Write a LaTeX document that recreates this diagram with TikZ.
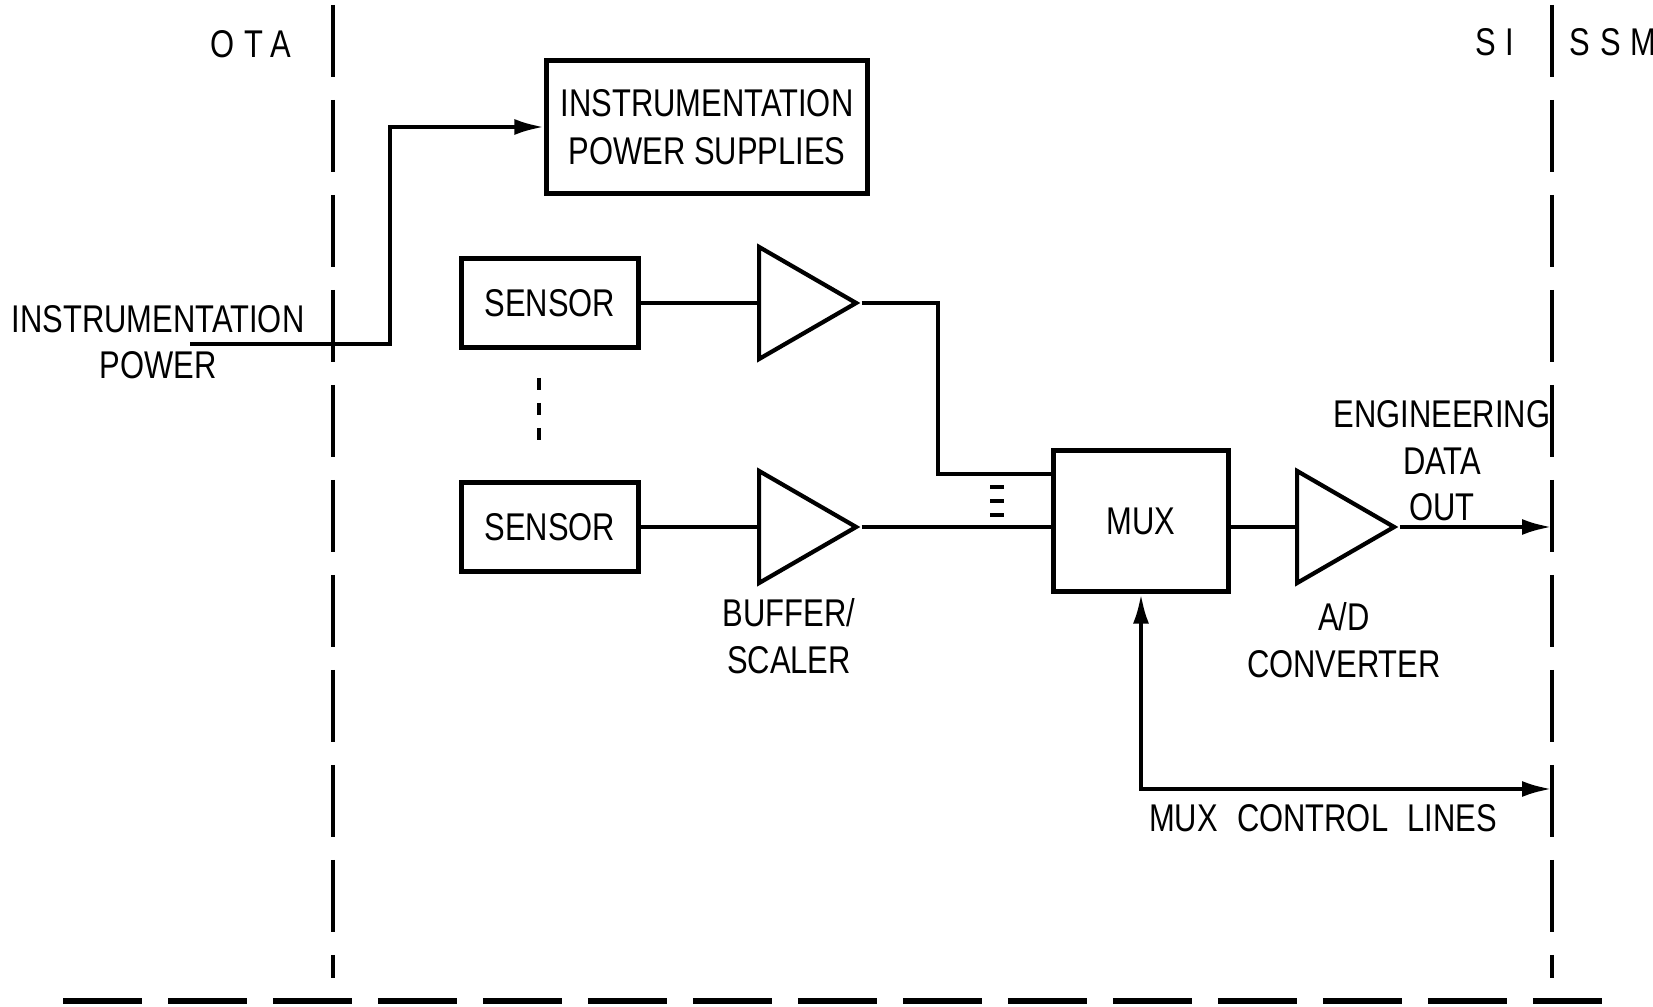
\documentclass[tikz,border=0pt]{standalone}
\usepackage{fontspec}
\setmainfont[FakeStretch=0.8]{Liberation Sans}
\newfontfamily\widefont[FakeStretch=0.8,LetterSpace=25]{Liberation Sans}
\usepackage{tikz}
\usetikzlibrary{shapes.geometric, arrows.meta, positioning, calc}
\tikzset{
  block/.style    = {rectangle, draw, line width=1.2pt, inner sep=0pt,
                     minimum width=#1, align=center,
                     font=\fontsize{11}{13.8}\selectfont},
  block/.default  = 1.77cm,
  amp/.style      = {isosceles triangle, isosceles triangle stretches,
                     draw, line width=1.2pt, inner sep=0pt, anchor=west,
                     minimum width=1.12cm, minimum height=0.97cm},
  sig/.style      = {line width=1.2pt},
  arrow/.style    = {-{Latex[length=3mm, width=1.6mm]}, line width=1.2pt},
  divider/.style  = {line width=1.3pt, dash pattern=on 0.72cm off 0.23cm},
  floor/.style    = {line width=1.6pt, dash pattern=on 0.79cm off 0.26cm},
  label/.style    = {align=center, font=\fontsize{11}{13.2}\selectfont},
}
\begin{document}
\begin{tikzpicture}
  \useasboundingbox (0,0) rectangle (16.53,10.07);

  % interface boundaries
  \coordinate (otatop) at (3.33, 10.02);
  \coordinate (otabot) at (3.33, 0.29);
  \coordinate (sitop)  at (15.52, 10.02);
  \coordinate (sibot)  at (15.52, 0.29);
  \coordinate (floorl) at (0.63, 0.06);
  \coordinate (floorr) at (16.02, 0.06);
  \draw[divider] (otatop) -- (otabot);
  \draw[divider] (sitop) -- (sibot);
  \draw[floor] (floorl) -- (floorr);

  \node[label, font=\widefont\fontsize{11}{13.2}\selectfont] (ota) at (2.51, 9.63) {OTA};
  \node[label, font=\widefont\fontsize{11}{13.2}\selectfont] (si)  at (14.95, 9.65) {SI};
  \node[label, font=\widefont\fontsize{11}{13.2}\selectfont] (ssm) at (16.13, 9.65) {SSM};

  % blocks
  \node[block=3.21cm, minimum height=1.33cm] (psu) at (7.07, 8.80)
    {INSTRUMENTATION\\POWER SUPPLIES};
  \node[block, minimum height=0.89cm] (sens1) at (5.50, 7.04) {SENSOR};
  \node[block, minimum height=0.89cm] (sens2) at (5.50, 4.80) {SENSOR};
  \node[amp] (amp1) at (7.57, 7.04) {};
  \node[amp] (amp2) at (7.57, 4.80) {};
  \node[block=1.75cm, minimum height=1.41cm] (mux) at (11.41, 4.86) {MUX};
  \node[amp] (adc) at (12.95, 4.80) {};

  % labels
  \node[label] (pwrlbl) at (1.58, 6.65) {INSTRUMENTATION\\POWER};
  \node[label] (buflbl) at (7.89, 3.71) {BUFFER/\\SCALER};
  \node[label] (adclbl) at (13.44, 3.67) {A/D\\CONVERTER};
  \node[label] (englbl) at (14.42, 5.46) {ENGINEERING\\DATA\\OUT};
  \node[label] (ctllbl) at (13.23, 1.89) {MUX\enspace CONTROL\enspace LINES};

  % connections
  \coordinate (pwrin)   at (1.90, 6.63);
  \coordinate (pwrbend) at (3.90, 8.80);
  \draw[arrow] (pwrin) -| (pwrbend) -- (psu.west);
  \draw[sig] (sens1) -- (amp1);
  \draw[sig] (sens2) -- (amp2);
  \coordinate (join) at (9.38, 5.33);
  \draw[sig] (amp1.apex) -| (join) -- (join -| mux.west);
  \draw[sig] (amp2.apex) -- (amp2.apex -| mux.west);
  \draw[sig] (adc.west -| mux.east) -- (adc.west);
  \draw[arrow] (adc.apex) -- (adc.apex -| sitop);
  \coordinate (ctrl) at (15.52, 2.18);
  \draw[sig, {Latex[length=3mm, width=1.6mm]}-{Latex[length=3mm, width=1.6mm]}]
    (mux.south) |- (ctrl);

  % more sensors / more inputs
  \coordinate (moretop) at (5.39, 6.29);
  \coordinate (morebot) at (5.39, 5.67);
  \draw[line width=1.3pt, dash pattern=on 0.12cm off 0.13cm] (moretop) -- (morebot);
  \foreach \y in {5.20, 5.06, 4.92}
    \draw[line width=1.3pt] (9.90, \y) -- (10.04, \y);
\end{tikzpicture}
\end{document}
